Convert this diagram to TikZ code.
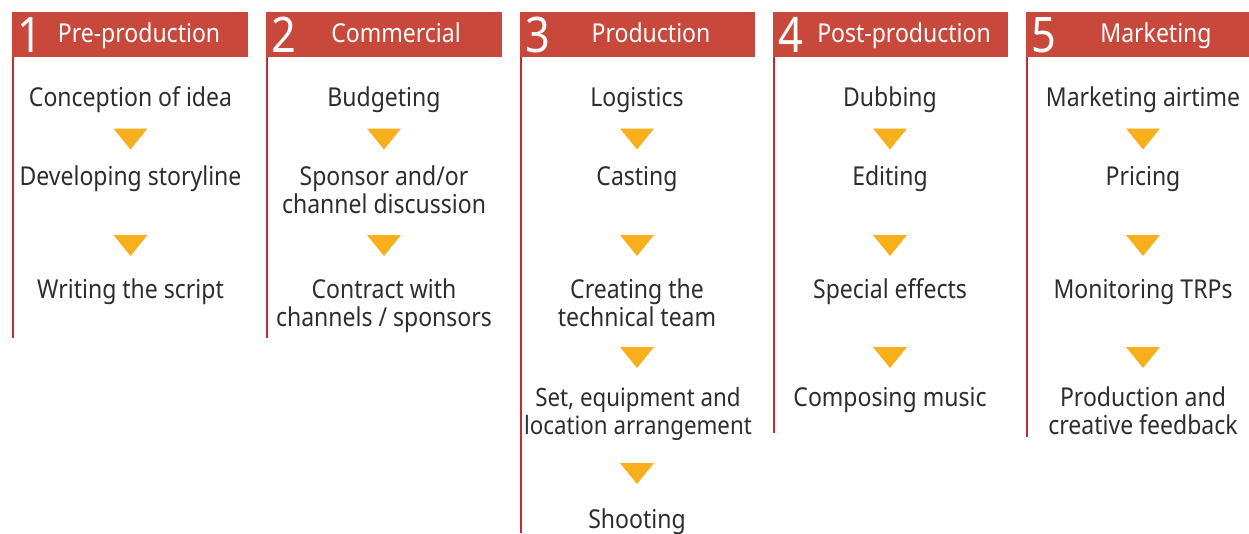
\documentclass[tikz,border=0pt]{standalone}
\usepackage{fontspec}
\setmainfont[FakeStretch=0.885]{Noto Sans}
\definecolor{hdr}{RGB}{200,72,60}
\definecolor{vline}{RGB}{200,40,50}
\definecolor{tri}{RGB}{249,174,27}
\definecolor{txt}{RGB}{45,45,45}
\tikzset{
  hdrbar/.style={fill=hdr, draw=none, anchor=north west, inner sep=0pt, minimum height=45pt},
  hdrnum/.style={text=white, anchor=base west, inner sep=0pt, font=\fontsize{49}{49}\selectfont},
  hdrtext/.style={text=white, anchor=base, inner sep=0pt, font=\fontsize{26}{28.5}\selectfont},
  itemtext/.style={text=txt, anchor=base, align=center, inner sep=0pt, font=\fontsize{26}{28.5}\selectfont},
  vrule/.style={draw=vline, line width=1.6pt},
  downtri/.pic={\fill[tri] (-17,-10.5) -- (17,-10.5) -- (0,10.5) -- cycle;}
}
\begin{document}
\begin{tikzpicture}[x=1pt,y=-1pt]
\useasboundingbox (0,0) rectangle (1249,533);
% headers
\node[hdrbar, minimum width=236pt] (h1) at (12,12) {};
\node[hdrbar, minimum width=236pt] (h2) at (266,12) {};
\node[hdrbar, minimum width=235pt] (h3) at (520,12) {};
\node[hdrbar, minimum width=235pt] (h4) at (773,12) {};
\node[hdrbar, minimum width=223pt] (h5) at (1026,12) {};
\node[hdrnum] (n1) at (17,52) {1};
\node[hdrnum] (n2) at (271,52) {2};
\node[hdrnum] (n3) at (525,52) {3};
\node[hdrnum] (n4) at (778,52) {4};
\node[hdrnum] (n5) at (1031,52) {5};
\node[hdrtext] (l1) at (139,42) {Pre-production};
\node[hdrtext] (l2) at (396,42) {Commercial};
\node[hdrtext] (l3) at (651,42) {Production};
\node[hdrtext] (l4) at (904,42) {Post-production};
\node[hdrtext] (l5) at (1156,42) {Marketing};
% vertical rules
\coordinate (e1) at (13,338);
\coordinate (e2) at (267,338);
\coordinate (e3) at (521,533);
\coordinate (e4) at (774,433);
\coordinate (e5) at (1027,437);
\draw[vrule] (h1.south west -| e1) -- (e1);
\draw[vrule] (h2.south west -| e2) -- (e2);
\draw[vrule] (h3.south west -| e3) -- (e3);
\draw[vrule] (h4.south west -| e4) -- (e4);
\draw[vrule] (h5.south west -| e5) -- (e5);
% column 1
\node[itemtext] (a1) at (130.5,106) {Conception of idea};
\pic (ta1) at (130.5,139) {downtri};
\node[itemtext] (a2) at (130.5,185) {Developing storyline};
\pic (ta2) at (130.5,245.5) {downtri};
\node[itemtext] (a3) at (130.5,298) {Writing the script};
% column 2
\node[itemtext] (b1) at (384,106) {Budgeting};
\pic (tb1) at (384,139) {downtri};
\node[itemtext] (b2) at (384,213.5) {Sponsor and/or\\channel discussion};
\pic (tb2) at (384,245.5) {downtri};
\node[itemtext] (b3) at (384,326.5) {Contract with\\channels / sponsors};
% column 3
\node[itemtext] (c1) at (637,106) {Logistics};
\pic (tc1) at (637,139) {downtri};
\node[itemtext] (c2) at (637,185) {Casting};
\pic (tc2) at (637,245.5) {downtri};
\node[itemtext] (c3) at (637,326.5) {Creating the\\technical team};
\pic (tc3) at (637,357.5) {downtri};
\node[itemtext, font=\fontsize{25.2}{28.5}\selectfont] (c4) at (638,434.5) {Set, equipment and\\location arrangement};
\pic (tc4) at (637,473.5) {downtri};
\node[itemtext] (c5) at (637,528) {Shooting};
% column 4
\node[itemtext] (d1) at (890,106) {Dubbing};
\pic (td1) at (890,139) {downtri};
\node[itemtext] (d2) at (890,185) {Editing};
\pic (td2) at (890,245.5) {downtri};
\node[itemtext] (d3) at (890,298) {Special effects};
\pic (td3) at (890,357.5) {downtri};
\node[itemtext] (d4) at (890,406) {Composing music};
% column 5
\node[itemtext] (f1) at (1143,106) {Marketing airtime};
\pic (tf1) at (1143,139) {downtri};
\node[itemtext] (f2) at (1143,185) {Pricing};
\pic (tf2) at (1143,245.5) {downtri};
\node[itemtext] (f3) at (1143,298) {Monitoring TRPs};
\pic (tf3) at (1143,357.5) {downtri};
\node[itemtext] (f4) at (1143,434.5) {Production and\\creative feedback};
\end{tikzpicture}
\end{document}
